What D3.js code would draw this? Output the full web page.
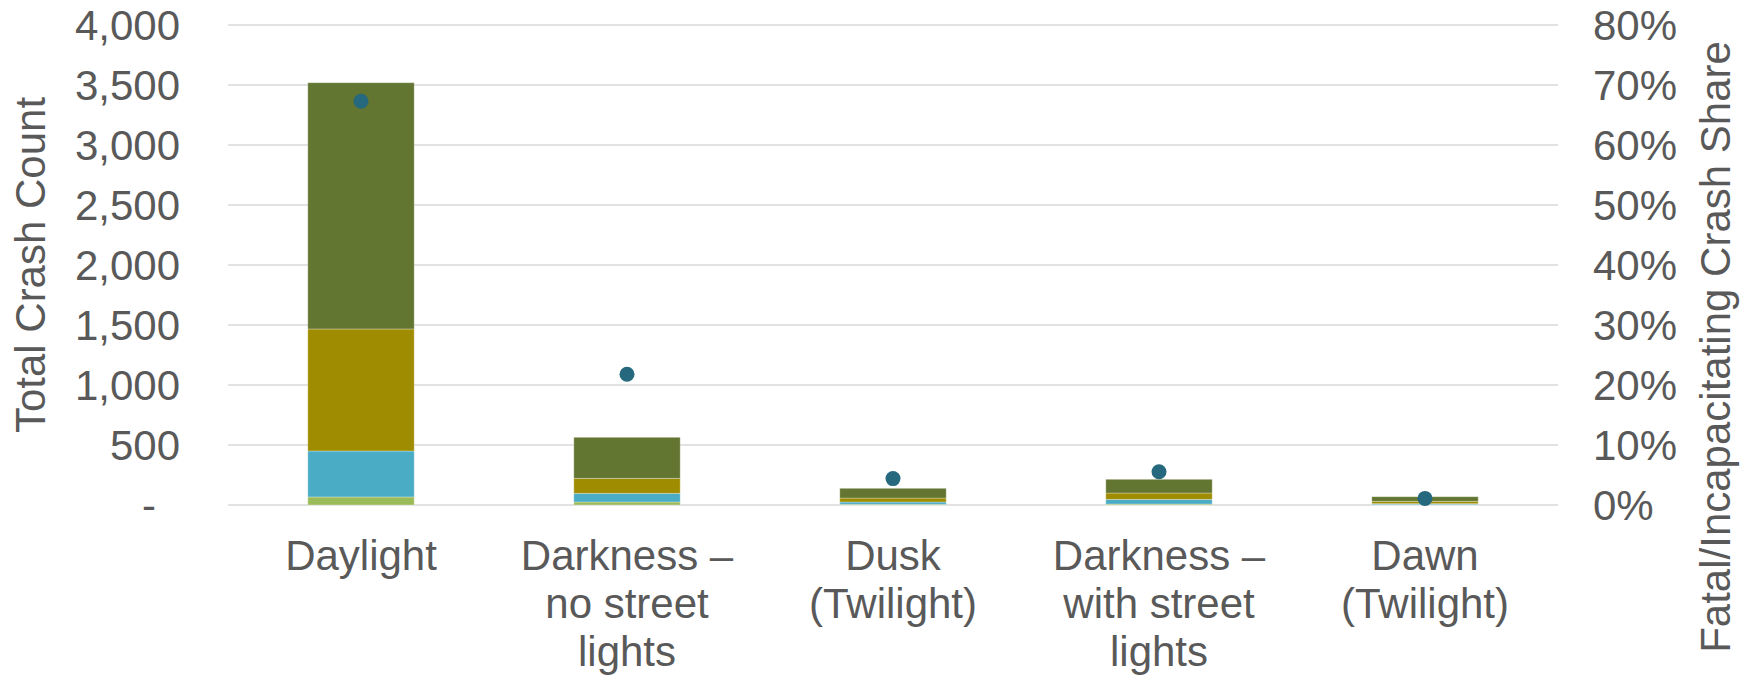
<!DOCTYPE html>
<html>
<head>
<meta charset="utf-8">
<script src="https://cdn.jsdelivr.net/npm/d3@7"></script>
<style>
  html, body { margin: 0; padding: 0; background: #ffffff; }
  svg { display: block; }
  text { font-family: "Liberation Sans", Arial, Helvetica, sans-serif; fill: #595959; }
</style>
</head>
<body>
<svg id="chart" width="1752" height="678"></svg>
<script>
// ---- data ----
const categories = ["Daylight", "Darkness – no street lights", "Dusk (Twilight)", "Darkness – with street lights", "Dawn (Twilight)"];
const categoryLines = [["Daylight"], ["Darkness –", "no street", "lights"], ["Dusk", "(Twilight)"], ["Darkness –", "with street", "lights"], ["Dawn", "(Twilight)"]];
const seriesNames = ["Fatal", "Incapacitating Injury", "Non-Incapacitating Injury", "Possible Injury"];
const fatal          = [67, 25, 6, 8, 3];
const incapacitating = [383, 72, 19, 39, 8];
const nonIncap       = [1017, 125, 33, 53, 20];
const possible       = [2052, 342, 81, 114, 38];
const fatalIncapShare = [0.673, 0.218, 0.044, 0.0555, 0.011];
const countTicks = [0, 500, 1000, 1500, 2000, 2500, 3000, 3500, 4000];
const shareTicks = [0, 0.1, 0.2, 0.3, 0.4, 0.5, 0.6, 0.7, 0.8];
const seriesColors = ["#9bbb59", "#4bacc6", "#a08c00", "#627531"];
const dotColor = "#26687d";

// ---- layout ----
const svg = d3.select("#chart");
const plotLeft = 228, plotRight = 1558, plotTop = 25, plotBottom = 505;

const x = d3.scaleBand().domain(categories).range([plotLeft, plotRight]).paddingInner(0.6).paddingOuter(0.3);
const y = d3.scaleLinear().domain([0, 4000]).range([plotBottom, plotTop]);
const y2 = d3.scaleLinear().domain([0, 0.8]).range([plotBottom, plotTop]);

// gridlines
svg.append("g")
  .selectAll("line").data(countTicks).join("line")
  .attr("x1", plotLeft).attr("x2", plotRight)
  .attr("y1", d => y(d)).attr("y2", d => y(d))
  .attr("stroke", "#d9d9d9").attr("stroke-width", 1.5);

// stacked bars
const rows = categories.map((c, i) => ({
  cat: c,
  "Fatal": fatal[i],
  "Incapacitating Injury": incapacitating[i],
  "Non-Incapacitating Injury": nonIncap[i],
  "Possible Injury": possible[i]
}));
const stack = d3.stack().keys(seriesNames)(rows);

svg.append("g").selectAll("g").data(stack).join("g")
  .attr("fill", (d, i) => seriesColors[i])
  .selectAll("rect").data(d => d).join("rect")
  .attr("x", d => x(d.data.cat))
  .attr("width", x.bandwidth())
  .attr("y", d => y(d[1]))
  .attr("height", d => y(d[0]) - y(d[1]))
  .attr("stroke", "rgba(255,255,255,0.3)")
  .attr("stroke-width", 1);

// dots
svg.append("g").selectAll("circle").data(fatalIncapShare).join("circle")
  .attr("cx", (d, i) => x(categories[i]) + x.bandwidth() / 2)
  .attr("cy", d => y2(d))
  .attr("r", 7.5)
  .attr("fill", dotColor);

// left axis
const yAxis = d3.axisLeft(y).tickValues(countTicks)
  .tickFormat(d => d === 0 ? "-" : d3.format(",")(d))
  .tickSize(0).tickPadding(0);
const gL = svg.append("g").attr("transform", "translate(180,0)").call(yAxis);
gL.select(".domain").remove();
gL.selectAll("text")
  .style("font-size", "42px")
  .attr("fill", "#595959")
  .attr("dy", "0.35em")
  .attr("dx", d => d === 0 ? -24 : 0);

// right axis
const y2Axis = d3.axisRight(y2).tickValues(shareTicks)
  .tickFormat(d3.format(".0%"))
  .tickSize(0).tickPadding(0);
const gR = svg.append("g").attr("transform", "translate(1593,0)").call(y2Axis);
gR.select(".domain").remove();
gR.selectAll("text")
  .style("font-size", "42px")
  .attr("fill", "#595959")
  .attr("dy", "0.35em");

// bottom axis
const xAxis = d3.axisBottom(x).tickSize(0).tickFormat("");
const gB = svg.append("g").attr("transform", `translate(0,${plotBottom})`).call(xAxis);
gB.select(".domain").remove();
gB.selectAll(".tick text").each(function(d, i) {
  const t = d3.select(this);
  t.text(null).attr("y", 0).attr("dy", null)
   .style("font-size", "42px").attr("fill", "#595959").attr("text-anchor", "middle");
  categoryLines[i].forEach((line, j) => {
    t.append("tspan").attr("x", 0).attr("y", 65 + j * 48).text(line);
  });
});

// axis titles
svg.append("text")
  .attr("transform", `translate(45,${(plotTop + plotBottom) / 2}) rotate(-90)`)
  .attr("text-anchor", "middle")
  .style("font-size", "42px")
  .text("Total Crash Count");

svg.append("text")
  .attr("transform", "translate(1730,347) rotate(-90)")
  .attr("text-anchor", "middle")
  .style("font-size", "42px")
  .text("Fatal/Incapacitating Crash Share");
</script>
</body>
</html>
